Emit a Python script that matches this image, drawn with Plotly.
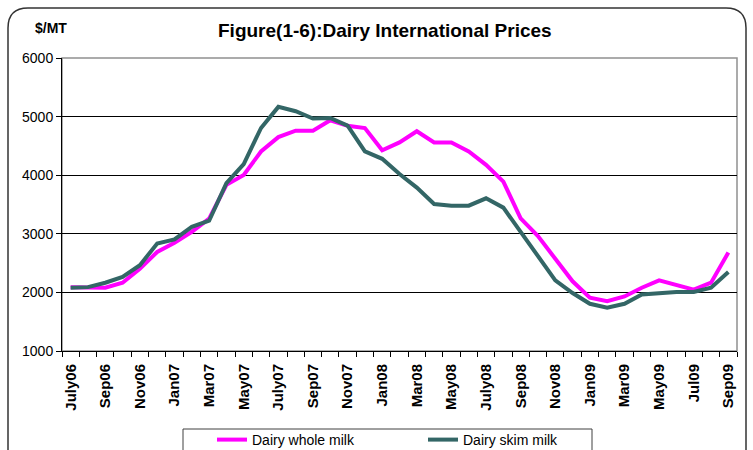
import plotly.graph_objects as go

months = ["July06", "Aug06", "Sep06", "Oct06", "Nov06", "Dec06",
          "Jan07", "Feb07", "Mar07", "Apr07", "May07", "Jun07",
          "July07", "Aug07", "Sep07", "Oct07", "Nov07", "Dec07",
          "Jan08", "Feb08", "Mar08", "Apr08", "May08", "Jun08",
          "July08", "Aug08", "Sep08", "Oct08", "Nov08", "Dec08",
          "Jan09", "Feb09", "Mar09", "Apr09", "May09", "Jun09",
          "Jul09", "Aug09", "Sep09"]

whole_milk = [2090, 2090, 2080, 2165, 2405, 2690, 2845, 3035, 3260, 3835,
              4005, 4405, 4650, 4760, 4760, 4937, 4845, 4805, 4425, 4560,
              4750, 4560, 4560, 4406, 4177, 3891, 3263, 2960, 2577, 2189,
              1909, 1851, 1931, 2080, 2206, 2120, 2046, 2166, 2680]

skim_milk = [2080, 2090, 2165, 2263, 2463, 2835, 2903, 3120, 3223, 3863,
             4190, 4806, 5166, 5091, 4966, 4977, 4846, 4406, 4280, 4020,
             3789, 3509, 3480, 3480, 3606, 3446, 3034, 2606, 2206, 1989,
             1806, 1737, 1806, 1966, 1994, 2006, 2006, 2080, 2349]

tick_labels = [m if i % 2 == 0 else "" for i, m in enumerate(months)]

FONT = "Liberation Sans, Arial, sans-serif"
W, H = 753, 450
L, R, T, B = 62, 16, 58, 99
PW, PH = W - L - R, H - T - B


def px(x):
    return (x - L) / PW


def py(y):
    return (H - B - y) / PH


fig = go.Figure()
fig.add_trace(go.Scatter(x=months, y=whole_milk, mode="lines", name="Dairy whole milk",
                         line=dict(color="#FF00FF", width=4)))
fig.add_trace(go.Scatter(x=months, y=skim_milk, mode="lines", name="Dairy skim milk",
                         line=dict(color="#336666", width=4)))

r = 20
border = (f"M {px(8)},{py(470)} L {px(8)},{py(8 + r)} "
          f"Q {px(8)},{py(8)} {px(8 + r)},{py(8)} "
          f"L {px(746 - r)},{py(8)} Q {px(746)},{py(8)} {px(746)},{py(8 + r)} "
          f"L {px(746)},{py(470)}")

fig.update_layout(
    width=W, height=H,
    margin=dict(l=L, r=R, t=T, b=B, autoexpand=False),
    paper_bgcolor="white", plot_bgcolor="white",
    font=dict(family=FONT, color="black", size=14),
    showlegend=True,
    legend=dict(orientation="h", x=px(212), xanchor="left", y=py(424), yanchor="top",
                borderwidth=0, bgcolor="rgba(0,0,0,0)",
                font=dict(size=14, family=FONT), entrywidth=166, entrywidthmode="pixels",
                itemwidth=30, traceorder="normal"),
    xaxis=dict(type="category", categoryorder="array", categoryarray=months,
               tickmode="array", tickvals=months, ticktext=tick_labels,
               tickson="boundaries", ticks="outside", ticklen=5, tickcolor="black",
               showline=True, linecolor="black", linewidth=1, showgrid=False,
               tickangle=-90, tickfont=dict(size=15, family=FONT, weight="bold"),
               ticklabelstandoff=6,
               range=[-0.5, len(months) - 0.5], zeroline=False),
    yaxis=dict(range=[1000, 6000], dtick=1000, tick0=1000, ticks="outside", ticklen=5,
               tickcolor="black", showline=True, linecolor="black", linewidth=1,
               showgrid=True, gridcolor="black", gridwidth=1, zeroline=False,
               tickfont=dict(size=14, family=FONT)),
    shapes=[
        dict(type="rect", xref="paper", yref="paper", x0=0, x1=1, y0=0, y1=1,
             line=dict(color="#909090", width=1.5), layer="below"),
        dict(type="path", xref="paper", yref="paper", path=border,
             line=dict(color="#333333", width=1.5)),
        dict(type="rect", xref="paper", yref="paper", x0=px(183), x1=px(592),
             y0=py(470), y1=py(429), line=dict(color="#404040", width=1),
             fillcolor="white", layer="below"),
    ],
    annotations=[
        dict(text="<b>Figure(1-6):Dairy International Prices</b>", xref="paper", yref="paper",
             x=px(385), y=py(31), xanchor="center", yanchor="middle", showarrow=False,
             font=dict(size=19, family=FONT)),
        dict(text="<b>$/MT</b>", xref="paper", yref="paper",
             x=px(51), y=py(28), xanchor="center", yanchor="middle", showarrow=False,
             font=dict(size=14, family=FONT)),
    ],
)

fig.write_html("out.html", config={"displayModeBar": False},
               post_script="document.body.style.margin='0';")
